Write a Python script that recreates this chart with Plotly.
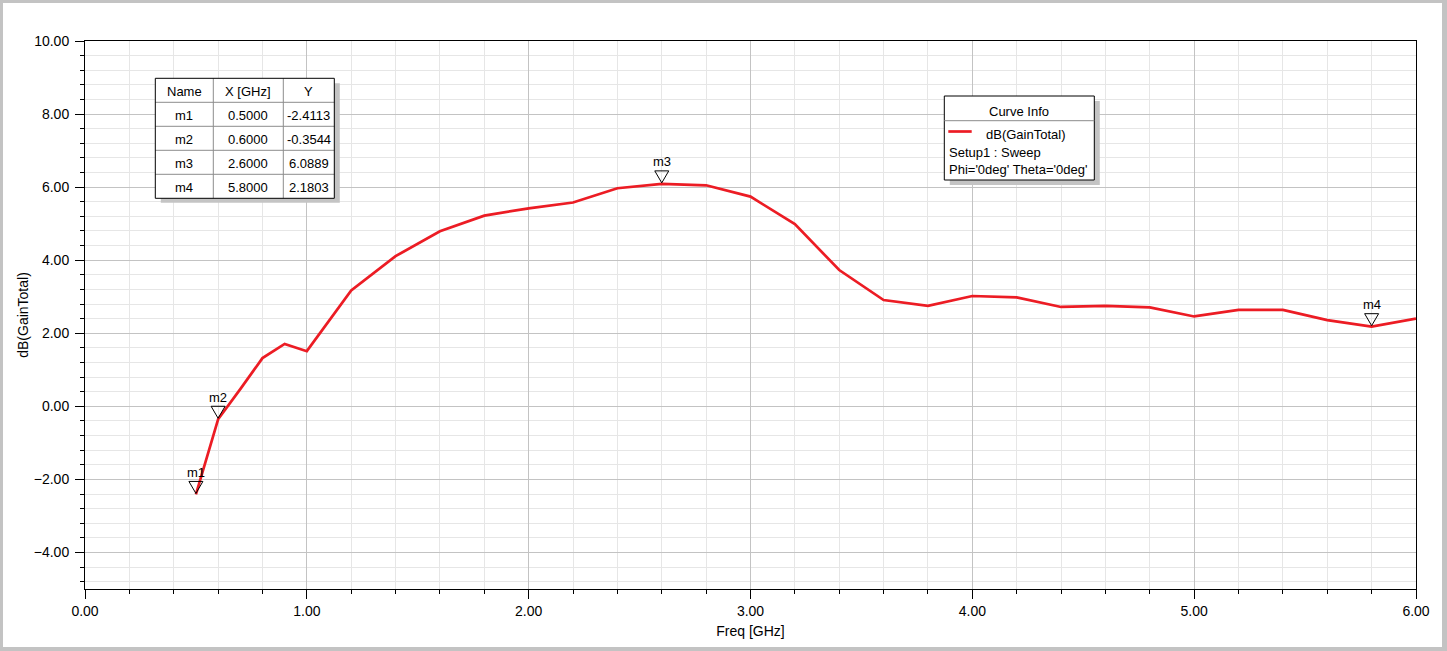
import plotly.graph_objects as go

# ---------------- data ----------------
freq_ghz = [0.5, 0.6, 0.7, 0.8, 0.9, 1.0, 1.2, 1.4, 1.6, 1.8, 2.0, 2.2, 2.4, 2.6, 2.8,
            3.0, 3.2, 3.4, 3.6, 3.8, 4.0, 4.2, 4.4, 4.6, 4.8, 5.0, 5.2, 5.4, 5.6, 5.8, 6.0]
gain_db = [-2.4113, -0.3544, 0.47, 1.32, 1.71, 1.51, 3.17, 4.11, 4.79, 5.22, 5.42, 5.58,
           5.97, 6.0889, 6.05, 5.74, 4.99, 3.73, 2.91, 2.75, 3.02, 2.98, 2.72, 2.75, 2.71,
           2.46, 2.64, 2.64, 2.36, 2.1803, 2.40]

marker_names = ["m1", "m2", "m3", "m4"]
marker_x = [0.5, 0.6, 2.6, 5.8]
marker_y = [-2.4113, -0.3544, 6.0889, 2.1803]

table_headers = ["Name", "X [GHz]", "Y"]
curve_info_title = "Curve Info"
curve_name = "dB(GainTotal)"
curve_info_lines = ["Setup1 : Sweep", "Phi='0deg' Theta='0deg'"]

x_title = "Freq [GHz]"
y_title = "dB(GainTotal)"

# ---------------- layout geometry ----------------
FIG_W, FIG_H = 1447, 651
ML, MR, MT, MB = 85, 31, 41, 62
PW = FIG_W - ML - MR
PH = FIG_H - MT - MB
FONT = "Liberation Sans, Arial, sans-serif"
RED = "#ec1c24"


def px(xp):
    return (xp - ML) / PW


def py(yp):
    return (FIG_H - MB - yp) / PH


fig = go.Figure()
fig.add_trace(go.Scatter(x=freq_ghz, y=gain_db, mode="lines",
                         line=dict(color=RED, width=2.7), name=curve_name,
                         showlegend=False, hoverinfo="x+y"))

shapes = []
annotations = []

# outer frame
shapes.append(dict(type="rect", xref="paper", yref="paper", layer="below",
                   x0=px(3), x1=px(1442), y0=py(647), y1=py(3),
                   fillcolor="white", line=dict(width=0)))

# marker triangles + labels
for name, mx, my in zip(marker_names, marker_x, marker_y):
    shapes.append(dict(type="path", xref="x", yref="y", xsizemode="pixel", ysizemode="pixel",
                       xanchor=mx, yanchor=my, layer="above",
                       path="M-7,13 L7,13 L0,1 Z",
                       line=dict(color="black", width=1), fillcolor="rgba(0,0,0,0)"))
    annotations.append(dict(x=mx, y=my, xref="x", yref="y", text=name, showarrow=False,
                            yshift=22, font=dict(family=FONT, size=13, color="black")))

# ---------- marker table ----------
tl, tr, tt = 155.3, 334.3, 78.3
row_h = 24
col_edges = [155.3, 213.3, 283.3, 334.3]
n_rows = len(marker_names) + 1
tb = tt + row_h * n_rows
shapes.append(dict(type="rect", xref="paper", yref="paper", layer="above",
                   x0=px(tl + 5.5), x1=px(tr + 5.5), y0=py(tb + 4.5), y1=py(tt + 5),
                   fillcolor="#c4c4c4", line=dict(width=0)))
shapes.append(dict(type="rect", xref="paper", yref="paper", layer="above",
                   x0=px(tl), x1=px(tr), y0=py(tb), y1=py(tt),
                   fillcolor="white", line=dict(width=0)))
for r in range(1, n_rows):
    yy = tt + r * row_h
    shapes.append(dict(type="line", xref="paper", yref="paper", layer="above",
                       x0=px(tl), x1=px(tr), y0=py(yy), y1=py(yy),
                       line=dict(color="#8c8c8c", width=1)))
for c in col_edges[1:-1]:
    shapes.append(dict(type="line", xref="paper", yref="paper", layer="above",
                       x0=px(c), x1=px(c), y0=py(tb), y1=py(tt),
                       line=dict(color="#8c8c8c", width=1)))
shapes.append(dict(type="rect", xref="paper", yref="paper", layer="above",
                   x0=px(tl), x1=px(tr), y0=py(tb), y1=py(tt),
                   fillcolor="rgba(0,0,0,0)", line=dict(color="black", width=1)))

rows = [table_headers] + [[n, f"{x:.4f}", f"{y:.4f}"]
                          for n, x, y in zip(marker_names, marker_x, marker_y)]
for r, row in enumerate(rows):
    yc = tt + r * row_h + row_h / 2 + 1.5
    for c, txt in enumerate(row):
        xc = (col_edges[c] + col_edges[c + 1]) / 2
        annotations.append(dict(x=px(xc), y=py(yc), xref="paper", yref="paper", text=txt,
                                showarrow=False, xanchor="center", yanchor="middle",
                                font=dict(family=FONT, size=13, color="black")))

# ---------- curve info box ----------
cl, cr, ct, cb = 944.3, 1094.3, 96.0, 180.0
shapes.append(dict(type="rect", xref="paper", yref="paper", layer="above",
                   x0=px(cl + 5.5), x1=px(cr + 5.5), y0=py(cb + 5), y1=py(ct + 5),
                   fillcolor="#c4c4c4", line=dict(width=0)))
shapes.append(dict(type="rect", xref="paper", yref="paper", layer="above",
                   x0=px(cl), x1=px(cr), y0=py(cb), y1=py(ct),
                   fillcolor="white", line=dict(color="black", width=1)))
shapes.append(dict(type="line", xref="paper", yref="paper", layer="above",
                   x0=px(cl), x1=px(cr), y0=py(120.7), y1=py(120.7),
                   line=dict(color="#8c8c8c", width=1)))
shapes.append(dict(type="line", xref="paper", yref="paper", layer="above",
                   x0=px(948.3), x1=px(971.7), y0=py(131.5), y1=py(131.5),
                   line=dict(color=RED, width=2.7)))
annotations.append(dict(x=px(1019.3), y=py(111), xref="paper", yref="paper",
                        text=curve_info_title, showarrow=False, xanchor="center",
                        yanchor="middle", font=dict(family=FONT, size=13, color="black")))
annotations.append(dict(x=px(984), y=py(134.3), xref="paper", yref="paper",
                        text=curve_name, showarrow=False, xanchor="left",
                        yanchor="middle", font=dict(family=FONT, size=13, color="black")))
for i, line in enumerate(curve_info_lines):
    annotations.append(dict(x=px(947.3), y=py(152.7 + i * 16.6), xref="paper", yref="paper",
                            text=line, showarrow=False, xanchor="left",
                            yanchor="middle", font=dict(family=FONT, size=13, color="black")))

axis_common = dict(showline=True, linecolor="black", linewidth=1, mirror=True,
                   ticks="outside", ticklen=9, tickcolor="black", tickwidth=1,
                   showgrid=True, gridcolor="#c3c3c3", gridwidth=1, zeroline=False,
                   tickfont=dict(family=FONT, size=14, color="black"),
                   tickformat=".2f")

fig.update_layout(
    width=FIG_W, height=FIG_H,
    margin=dict(l=ML, r=MR, t=MT, b=MB, pad=0),
    paper_bgcolor="#c3c3c3", plot_bgcolor="white",
    showlegend=False,
    xaxis=dict(range=[0, 6], tick0=0, dtick=1, **axis_common,
               title=dict(text=x_title, font=dict(family=FONT, size=14, color="black"), standoff=8),
               minor=dict(dtick=0.2, tick0=0, ticks="outside", ticklen=4, tickcolor="black",
                          showgrid=True, gridcolor="#e6e6e6", gridwidth=1)),
    yaxis=dict(range=[-5, 10], tick0=0, dtick=2, **axis_common, ticklabelstandoff=3,
               title=dict(text=y_title, font=dict(family=FONT, size=14, color="black"), standoff=1),
               minor=dict(dtick=0.4, tick0=0, ticks="outside", ticklen=4, tickcolor="black",
                          showgrid=True, gridcolor="#e6e6e6", gridwidth=1)),
    shapes=shapes,
    annotations=annotations,
)

fig.write_html("out.html")
